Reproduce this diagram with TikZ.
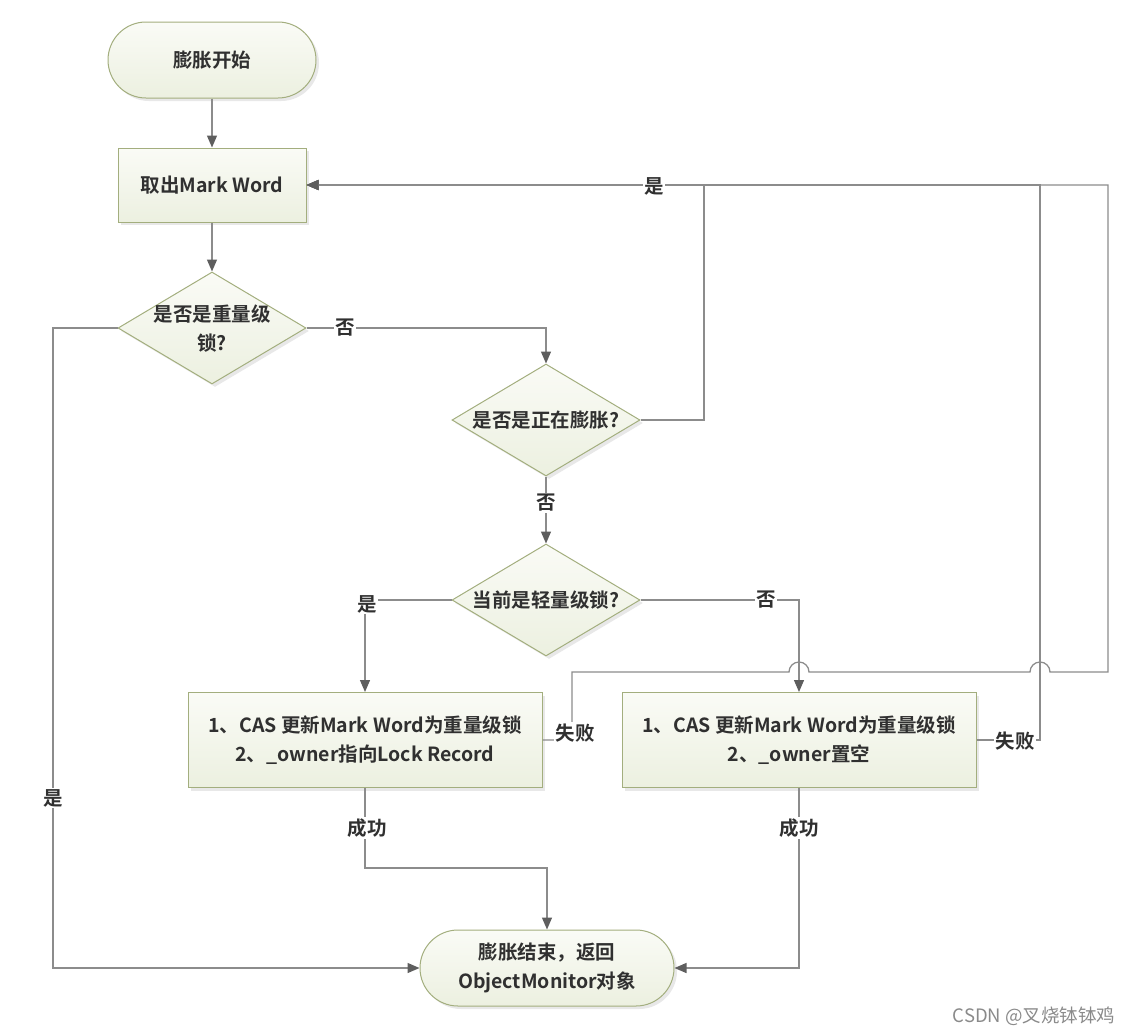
\documentclass[tikz,border=0pt]{standalone}
\usepackage{fontspec}
\setmainfont{Noto Sans CJK SC}[BoldFont={Noto Sans CJK SC Bold}]
\usetikzlibrary{shapes.geometric,arrows.meta,shadows}
\definecolor{linec}{HTML}{8C8C8C}
\definecolor{tipc}{HTML}{5E5E5E}
\definecolor{borderc}{HTML}{A3AE7E}
\definecolor{filltop}{HTML}{FAFBF6}
\definecolor{fillbot}{HTML}{ECF0E0}
\definecolor{txt}{HTML}{303030}
\definecolor{wmc}{HTML}{8A8A8A}
\begin{document}
\begin{tikzpicture}[x=1pt,y=1pt,
  every node/.style={font=\fontsize{19.5}{29}\selectfont\bfseries, text=txt},
  box/.style={draw=borderc, line width=1pt, top color=filltop, bottom color=fillbot,
    drop shadow={opacity=0.18,shadow xshift=3pt,shadow yshift=-3pt}, align=center, inner sep=0pt},
  term/.style={box, rounded corners=38pt, minimum height=76pt},
  procbox/.style={box, minimum height=95pt},
  decision/.style={box, shape=diamond, minimum width=188pt, minimum height=112pt},
  conn/.style={draw=linec, line width=1.3pt, -{Triangle[length=12pt,width=10pt,color=tipc]}},
  lab/.style={fill=white, inner sep=1.5pt}
]
\useasboundingbox (0,0) rectangle (1136,-1034);

\node[term, minimum width=208pt] (start) at (212,-60) {膨胀开始};
\node[procbox, minimum width=188pt, minimum height=74pt] (getmw) at (212,-185) {取出Mark Word};
\node[decision] (d1) at (212,-328) {};
\node[align=center] (d1t) at (212,-329) {是否是重量级\\锁?};
\node[decision] (d2) at (546,-420) {};
\node (d2t) at (546,-420) {是否是正在膨胀?};
\node[decision] (d3) at (546,-600) {};
\node (d3t) at (546,-600) {当前是轻量级锁?};
\node[procbox, minimum width=354pt] (boxl) at (365,-740) {1、CAS 更新Mark Word为重量级锁\\2、\_owner指向Lock Record};
\node[procbox, minimum width=354pt] (boxr) at (799,-740) {1、CAS 更新Mark Word为重量级锁\\2、\_owner置空};
\node[term, minimum width=254pt] (endt) at (547,-968) {膨胀结束，返回\\ObjectMonitor对象};

\draw[conn] (start) -- (getmw);
\draw[conn] (getmw) -- (d1);
\draw[conn] (d1.west) -- (53,-328) -- (53,-968) -- (endt.west);
\draw[conn] (d1.east) -- (546,-328) -- (d2.north);
\draw[conn] (d2.east) -- (704,-420) -- (704,-185) -- (getmw.east);
\draw[conn] (d2.south) -- (d3.north);
\draw[conn] (d3.west) -- (365,-600) -- (boxl.north);
\draw[conn] (d3.east) -- (799,-600) -- (boxr.north);
\draw[conn] (boxl.east) -- (572,-740) -- (572,-672) -- (789,-672) arc (180:0:10) -- (1030,-672) arc (180:0:10) -- (1108,-672) -- (1108,-185) -- (getmw.east);
\draw[conn] (boxr.east) -- (1040,-740) -- (1040,-185) -- (getmw.east);
\draw[conn] (boxl.south) -- (365,-868) -- (547,-868) -- (endt.north);
\draw[conn] (boxr.south) -- (799,-968) -- (endt.east);

\node[lab] (l1) at (345,-328) {否};
\node[lab] (l2) at (654,-186) {是};
\node[lab] (l3) at (546,-503) {否};
\node[lab] (l4) at (367,-604) {是};
\node[lab] (l5) at (766,-600) {否};
\node[lab] (l6) at (367,-828) {成功};
\node[lab] (l7) at (799,-828) {成功};
\node[lab] (l8) at (53,-798) {是};
\node[lab] (l9) at (575,-733) {失败};
\node[lab] (l10) at (1015,-741) {失败};

\node[font=\fontsize{18.5}{18.5}\selectfont, text=wmc] (wm) at (1034,-1016) {CSDN @叉烧钵钵鸡};
\end{tikzpicture}
\end{document}
